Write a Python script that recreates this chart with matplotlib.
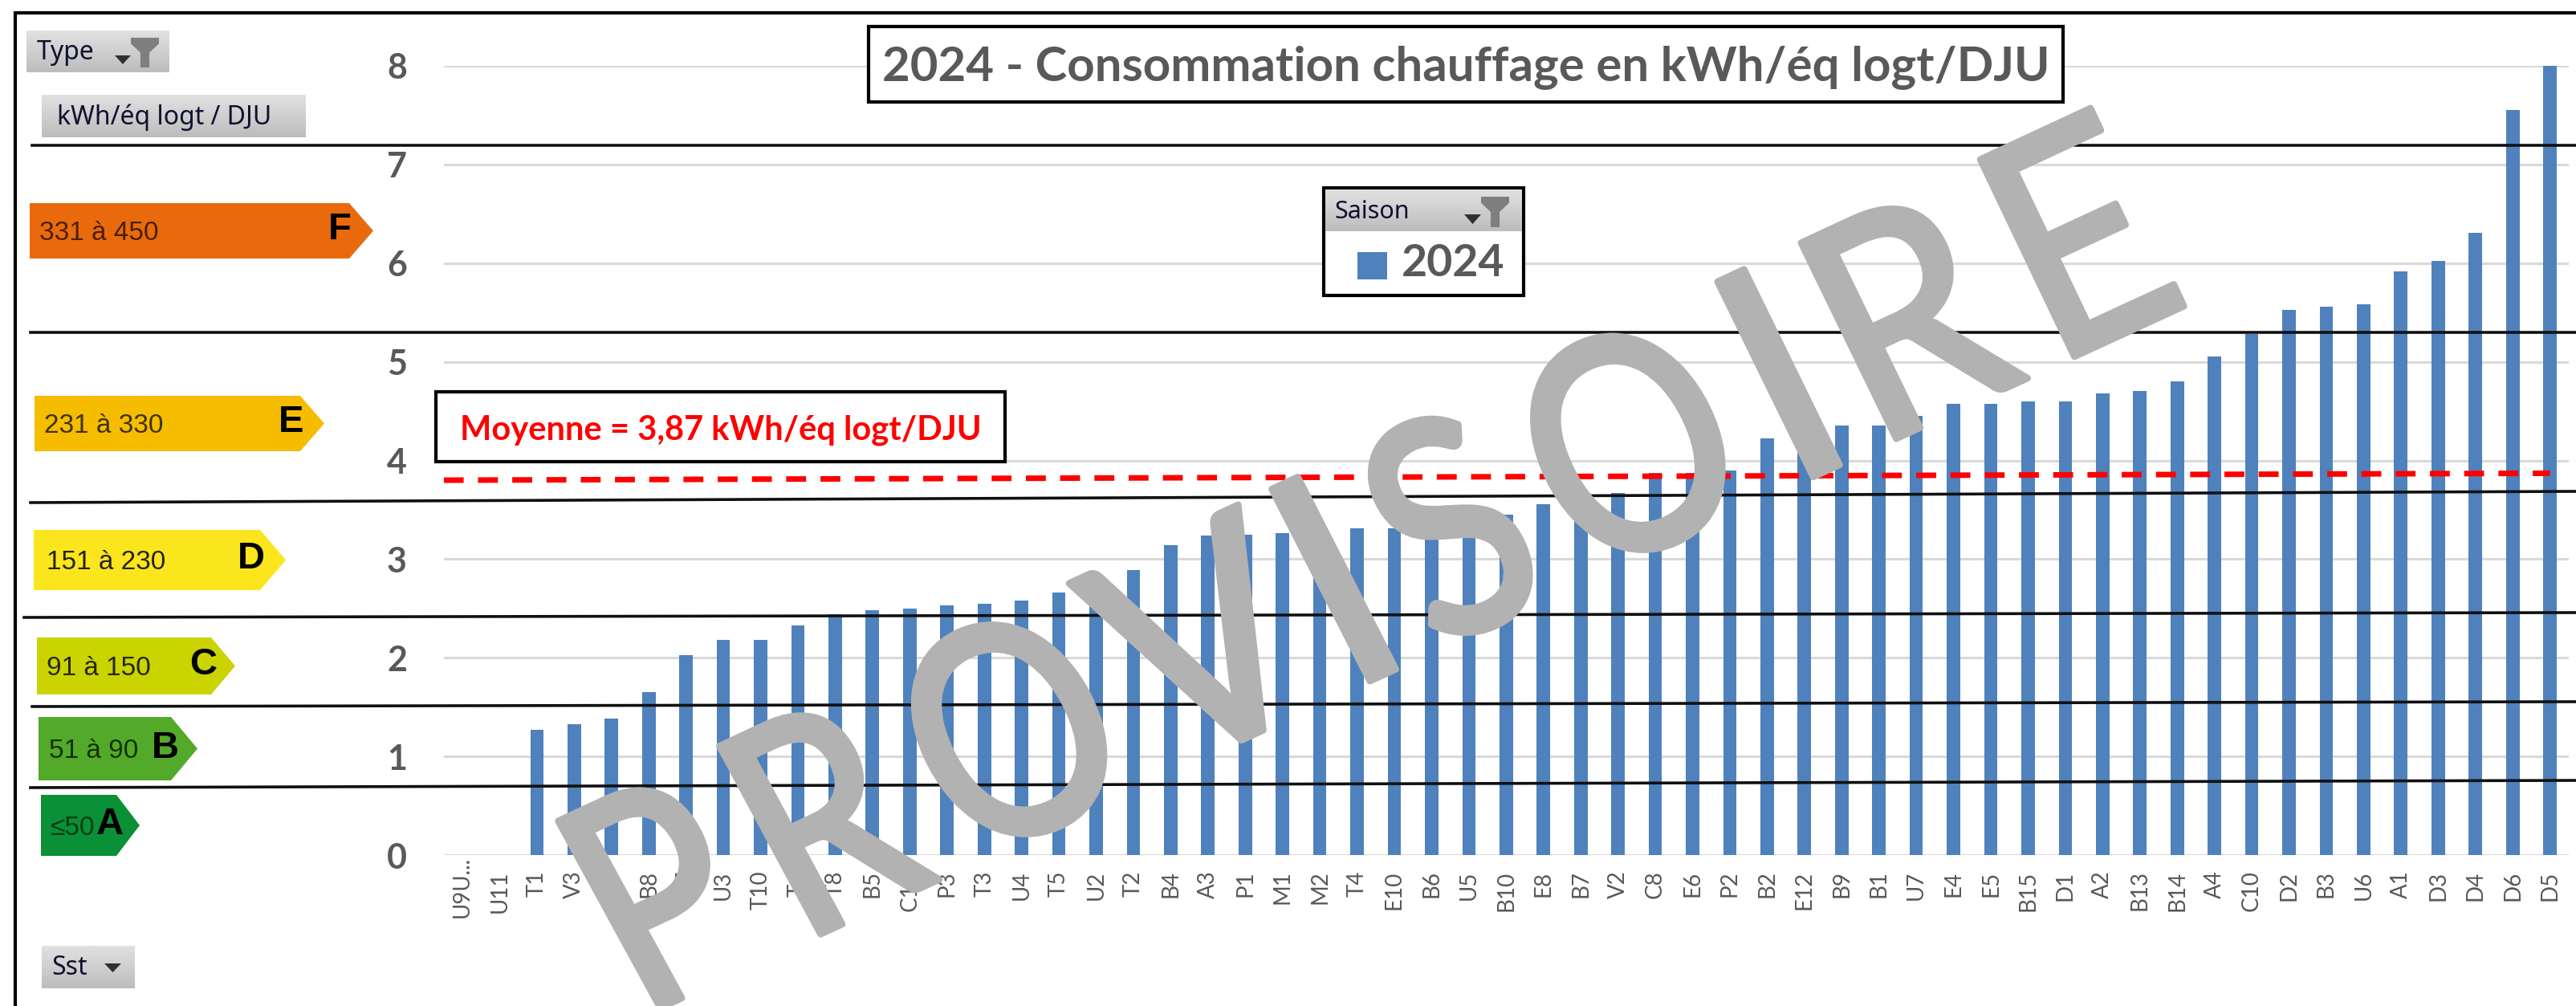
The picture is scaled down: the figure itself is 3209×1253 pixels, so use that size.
#!/usr/bin/env python3
# Consommation chauffage 2024 par sous-station, avec etiquettes DPE et filigrane

import numpy as np
import matplotlib
matplotlib.use('Agg')
import matplotlib.pyplot as plt
import matplotlib.patheffects as pe
from matplotlib.patches import Polygon, Rectangle
from matplotlib.path import Path
from matplotlib.transforms import IdentityTransform

W, H = 3209, 1253

# ===================================================================
# Data
# ===================================================================
sst = ['U9U...', 'U11', 'T1', 'V3', 'E7', 'B8', 'T7', 'U3', 'T10', 'T6', 'T8', 'B5', 'C11', 'P3', 'T3',
       'U4', 'T5', 'U2', 'T2', 'B4', 'A3', 'P1', 'M1', 'M2', 'T4', 'E10', 'B6', 'U5', 'B10', 'E8',
       'B7', 'V2', 'C8', 'E6', 'P2', 'B2', 'E12', 'B9', 'B1', 'U7', 'E4', 'E5', 'B15', 'D1', 'A2',
       'B13', 'B14', 'A4', 'C10', 'D2', 'B3', 'U6', 'A1', 'D3', 'D4', 'D6', 'D5']
conso = [0, 0, 1.27, 1.33, 1.38, 1.65, 2.03, 2.18, 2.18, 2.33, 2.44, 2.48, 2.50, 2.53, 2.55,
         2.58, 2.66, 2.72, 2.89, 3.14, 3.24, 3.25, 3.26, 3.28, 3.31, 3.31, 3.32, 3.33, 3.45, 3.56,
         3.60, 3.67, 3.87, 3.87, 3.90, 4.22, 4.25, 4.35, 4.35, 4.45, 4.57, 4.57, 4.60, 4.60, 4.68,
         4.70, 4.80, 5.05, 5.28, 5.53, 5.56, 5.58, 5.92, 6.02, 6.31, 7.55, 8.00]
y_ticks = [0, 1, 2, 3, 4, 5, 6, 7, 8]

moyenne_x = [-0.5, 56.0]
moyenne_y = [3.80, 3.87]

classes = ['F', 'E', 'D', 'C', 'B', 'A']
plages = ['331 à 450', '231 à 330', '151 à 230', '91 à 150', '51 à 90', '≤50']
couleurs = ['#E96A0C', '#F5BC00', '#FBE61E', '#CBD300', '#53A92A', '#0A9037']
couleurs_txt = ['#4A2000', '#3F3300', '#26240A', '#26280A', '#123300', '#063D16']

BLUE = '#4F81BD'
GREY = '#595959'
WATERMARK = '#B2B2B2'

fig = plt.figure(figsize=(W / 100, H / 100), dpi=100, facecolor='white')

# ===================================================================
# Main chart (axes placed on the reference pixels)
# ===================================================================
ax = fig.add_axes([552.8 / W, 1 - 1065 / H, (3199.8 - 552.8) / W, (1065 - 82) / H])
x = np.arange(len(sst))
ax.bar(x, conso, width=0.36, color=BLUE, zorder=3)
ax.set_xlim(-0.5, len(sst) - 0.5)
ax.set_ylim(0, 8)
ax.set_yticks(y_ticks)
ax.set_xticks(x)
ax.set_xticklabels(sst, rotation=90, fontsize=20, color=GREY, family='Lato')
ax.tick_params(axis='x', length=0, pad=14)
ax.tick_params(axis='y', length=0, pad=33)
ax.xaxis.get_major_ticks()[0].set_pad(1)
for lab in ax.get_yticklabels():
    lab.set(fontsize=31, fontweight='bold', color=GREY, family='Lato')
ax.grid(axis='y', color='#D9D9D9', lw=2.2, zorder=1)
for s in ax.spines.values():
    s.set_visible(False)

# ===================================================================
# Overlay in image pixels, y going down
# ===================================================================
ov = fig.add_axes([0, 0, 1, 1], facecolor='none')
ov.set_xlim(0, W)
ov.set_ylim(H, 0)
ov.axis('off')


def button(x0, x1, y0, y1):
    grad = np.linspace(0.88, 0.74, 32).reshape(-1, 1)
    ov.imshow(grad, extent=(x0, x1, y1, y0), cmap='gray', vmin=0, vmax=1, aspect='auto', zorder=6)


def arrow_down(x0, x1, y0, y1):
    ov.add_patch(Polygon([(x0, y0), (x1, y0), ((x0 + x1) / 2, y1)], color='#303030', lw=0, zorder=7))


def funnel(x0, x1, y0, y1):
    w, h = x1 - x0, y1 - y0
    pts = [(x0, y0), (x1, y0), (x1, y0 + .2 * h), (x0 + .66 * w, y0 + .5 * h), (x0 + .66 * w, y1),
           (x0 + .34 * w, y1), (x0 + .34 * w, y0 + .5 * h), (x0, y0 + .2 * h)]
    ov.add_patch(Polygon(pts, color='#7F7F7F', lw=0, zorder=7))


def box(x0, x1, y0, y1):
    ov.add_patch(Rectangle((x0, y0), x1 - x0, y1 - y0, fc='white', ec='black', lw=3, zorder=5))


# frame and class separators
ov.plot([19, 19, W], [H, 16, 16], color='black', lw=3, solid_joinstyle='miter', zorder=4)
sep_x = [[40, W], [38, W], [38, W], [30, W], [40, W], [38, W]]
sep_y = [[181, 181], [414, 414], [626, 612], [769, 763], [880, 874], [981, 972]]
for sx, sy in zip(sep_x, sep_y):
    ov.plot(sx, sy, color='#101010', lw=2.6, zorder=4)

# energy class arrows: left, shoulder, tip, top, bottom, text, letter
arrow_geo = [(37, 435, 465, 253, 322, 49, 409), (43, 374, 404, 493, 562, 55, 347),
             (42, 324, 356, 660, 735, 58, 296), (46, 263, 293, 794, 865, 58, 236),
             (48, 213, 246, 893, 972, 61, 189), (51, 145, 174, 990, 1066, 63, 120)]
for cl, pl, c, ct, g in zip(classes, plages, couleurs, couleurs_txt, arrow_geo):
    x0, xs, xt, yt, yb, xp, xl = g
    ov.add_patch(Polygon([(x0, yt), (xs, yt), (xt, (yt + yb) / 2), (xs, yb), (x0, yb)], color=c, lw=0, zorder=4))
    ov.text(xp, (yt + yb) / 2 + 3, pl, fontsize=24, color=ct, va='center', ha='left',
            family='Liberation Sans', zorder=5)
    ov.text(xl, (yt + yb) / 2 - 1, cl, fontsize=34, color='black', va='center', ha='left',
            family='Liberation Sans', fontweight='bold', zorder=5)

# slicers
button(33, 210, 38, 90)
ov.text(46, 66, 'Type', fontsize=23, color='#101030', va='center', family='Noto Sans', zorder=8)
arrow_down(143, 163, 69, 80)
funnel(163, 198, 47, 84)
button(52, 380, 118, 171)
ov.text(71, 146, 'kWh/éq logt / DJU', fontsize=23, color='#101030', va='center', family='Noto Sans', zorder=8)
button(52, 167, 1178, 1231)
ov.text(64, 1206, 'Sst', fontsize=23, color='#101030', va='center', family='Noto Sans', zorder=8)
arrow_down(130, 151, 1200, 1211)

# title box
box(1082, 2570, 33, 127)
ov.text(1826, 85, '2024 - Consommation chauffage en kWh/éq logt/DJU', fontsize=43.2, fontweight='bold',
        color=GREY, ha='center', va='center', family='Lato', zorder=8)

# legend box
box(1649, 1898, 234, 368)
button(1651, 1896, 236, 288)
ov.text(1662, 264, 'Saison', fontsize=22, color='#101030', va='center', family='Noto Sans', zorder=8)
arrow_down(1824, 1845, 267, 279)
funnel(1845, 1880, 245, 283)
ov.add_patch(Rectangle((1691, 314), 37, 34, fc=BLUE, lw=0, zorder=7))
ov.text(1746, 328, '2024', fontsize=40, fontweight='bold', color=GREY, va='center', family='Lato', zorder=8)

# moyenne
box(543, 1252, 488, 575)
ov.text(573, 536, 'Moyenne = 3,87 kWh/éq logt/DJU', fontsize=30, fontweight='bold', color='#FF0000',
        va='center', family='Lato', zorder=8)
ax.plot(moyenne_x, moyenne_y, color='#FF0000', lw=5, linestyle=(0, (25 / 7, 18 / 7)), zorder=5)
ax.set_xlim(-0.5, len(sst) - 0.5)


# ===================================================================
# Watermark: real text, warped on its quad by a path effect
# ===================================================================
class Warp(pe.AbstractPathEffect):
    def __init__(self, quad, spans, stroke):
        super().__init__()
        self.quad = np.array([(qx, H - qy) for qx, qy in quad], float)
        self.spans = spans
        self.stroke = stroke

    def draw_path(self, renderer, gc, tpath, affine, rgbFace=None):
        v = affine.transform(tpath.vertices)
        real = tpath.codes != Path.CLOSEPOLY
        lo, hi = v[real].min(axis=0), v[real].max(axis=0)
        uv = (v - lo) / (hi - lo)
        # letter extents along the text, from the contours
        starts = np.flatnonzero(tpath.codes == Path.MOVETO)
        rng = sorted((uv[a:b][real[a:b], 0].min(), uv[a:b][real[a:b], 0].max())
                     for a, b in zip(starts, np.append(starts[1:], len(uv))))
        merged = [list(rng[0])]
        for a, b in rng[1:]:
            if a < merged[-1][1]:
                merged[-1][1] = max(merged[-1][1], b)
            else:
                merged.append([a, b])
        uv[:, 0] = np.interp(uv[:, 0], np.ravel(merged), np.ravel(self.spans))
        # homography from the unit square: BL, BR, TR, TL
        src = [(0, 0), (1, 0), (1, 1), (0, 1)]
        A, b = [], []
        for (u, w), (qx, qy) in zip(src, self.quad):
            A.append([u, w, 1, 0, 0, 0, -u * qx, -w * qx])
            A.append([0, 0, 0, u, w, 1, -u * qy, -w * qy])
            b += [qx, qy]
        h = np.append(np.linalg.solve(np.array(A, float), np.array(b, float)), 1).reshape(3, 3)
        p = np.c_[uv, np.ones(len(uv))] @ h.T
        warped = Path(p[:, :2] / p[:, 2:], tpath.codes)
        gc0 = renderer.new_gc()
        gc0.copy_properties(gc)
        gc0.set_foreground(rgbFace)
        gc0.set_linewidth(self.stroke)
        gc0.set_joinstyle('round')
        renderer.draw_path(gc0, warped, IdentityTransform(), rgbFace)
        gc0.restore()


quad = [(824, 1258), (2722, 384), (2603, 132), (694, 1020)]
spans = [(0, .072), (.108, .1875), (.2156, .319), (.340, .451), (.473, .490),
         (.521, .591), (.622, .724), (.762, .779), (.8156, .900), (.930, 1)]
wm = ov.text(W / 2, H / 2, 'PROVISOIRE', fontsize=60, color=WATERMARK, ha='center', va='center',
             family='Lato', zorder=20)
wm.set_path_effects([Warp(quad, spans, 6)])

fig.savefig('out.png', dpi=100, facecolor='white')
